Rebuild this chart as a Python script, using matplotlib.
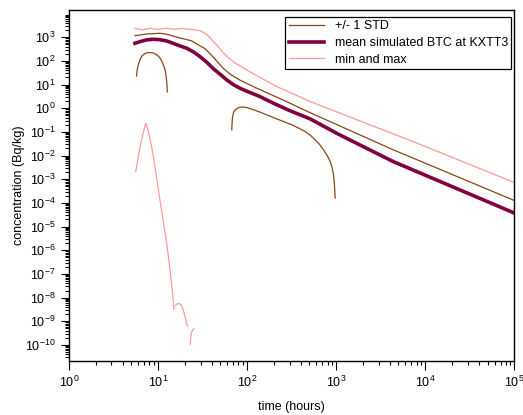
import numpy as np
import matplotlib.pyplot as plt

plt.rcParams['font.family'] = ['Liberation Sans', 'DejaVu Sans']
plt.rcParams['mathtext.default'] = 'regular'

# mean simulated BTC
t_mean = [5.51, 6.5, 7.5, 8.86, 10.5, 12.5, 15.5, 18, 21, 25, 29.6, 35, 41.8, 50, 59.1, 70, 83.4,
          100, 140, 200, 300, 510, 1062, 4370, 1e5]
c_mean = [558, 680, 780, 824, 790, 698, 520, 420, 344, 240, 152, 90, 47, 27, 15.8, 10, 7.0,
          5.2, 3.1, 1.6, 0.8, 0.357, 0.08, 0.0056, 3.75e-5]

# mean + 1 STD
t_up = [5.51, 7.46, 10.5, 13, 15.5, 21, 23.9, 27.2, 33.7, 38.4, 45.6, 54.2, 65, 83.4, 123,
        200, 300, 469, 1062, 4370, 1e5]
c_up = [1169, 1378, 1475, 1300, 1060, 800, 700, 520, 330, 200, 100, 48, 27, 15.4, 7.6,
        3.33, 1.67, 0.75, 0.19, 0.0176, 1.27e-4]

# mean - 1 STD (two pieces)
t_low1 = [5.73, 5.85, 6.04, 6.3, 6.61, 7.1, 7.62, 8.2, 8.79, 9.4, 10.0, 10.6, 11.1, 11.6, 12.0,
          12.3, 12.46, 12.6, 12.7]
c_low1 = [23, 45, 75, 120, 163, 205, 224, 225, 218, 195, 163, 128, 91, 62, 41.7,
          24, 15.8, 9, 4.9]
t_low2 = [67.3, 67.8, 68.4, 70.2, 73.3, 78, 83.4, 90, 99.3, 115, 134, 165, 206, 260, 318, 380,
          448, 515, 581, 650, 720, 800, 857, 900, 933, 955, 975]
c_low2 = [0.123, 0.25, 0.38, 0.65, 0.855, 1.0, 1.11, 1.13, 1.07, 0.9, 0.73, 0.53, 0.38, 0.27,
          0.20, 0.145, 0.104, 0.072, 0.0465, 0.03, 0.0176, 0.0095, 5.6e-3, 3.2e-3, 1.55e-3,
          6e-4, 1.6e-4]

# max
t_max = [5.51, 6.0, 6.6, 7.3, 8.13, 9.0, 10.0, 11.2, 12.5, 14.0, 15.5, 17.3, 19.2, 21.8, 24.7,
         29.6, 33.7, 38, 41.8, 45.6, 52, 59, 66, 74, 83.4, 108, 140, 216, 329, 510, 8070, 1e5]
c_max = [2400, 2250, 2030, 2250, 2400, 2250, 2130, 2300, 2400, 2250, 2180, 2300, 2310, 2220, 2130,
         1900, 1475, 1000, 650, 480, 260, 160, 110, 80, 61.5, 34, 20.1, 8.2, 4.05, 1.92, 0.0337, 7.3e-4]

# min (three pieces)
t_min1 = [5.62, 6.0, 6.28, 6.8, 7.27, 7.6, 7.93, 8.4, 8.86, 9.6, 10.5, 11.5, 12.5, 13.4, 14.3, 15.1]
c_min1 = [2.1e-3, 0.009, 0.0235, 0.09, 0.235, 0.15, 0.0755, 0.028, 9.2e-3, 1.3e-3, 1.36e-4,
          1.5e-5, 2.03e-6, 2.5e-7, 3.0e-8, 3.3e-9]
t_min2 = [15.7, 16.2, 16.8, 17.4, 18.1, 19.1, 20.1, 21.3]
c_min2 = [4.6e-9, 5.3e-9, 5.6e-9, 5.5e-9, 5.1e-9, 3.2e-9, 1.6e-9, 6.2e-10]
t_min3 = [22.9, 23.2, 23.5, 24.0, 24.4, 25.4]
c_min3 = [1.05e-10, 1.8e-10, 2.8e-10, 3.7e-10, 4.3e-10, 4.8e-10]

brown = '#8B4513'
mean_col = '#800040'
pink = '#FF9999'

fig = plt.figure(figsize=(5.23, 4.15), dpi=100)
ax = fig.add_axes([0.1319, 0.1301, 0.8515, 0.8458])

ax.plot(t_up, c_up, color=brown, lw=0.9, label='+/- 1 STD')
ax.plot(t_low1, c_low1, color=brown, lw=0.9)
ax.plot(t_low2, c_low2, color=brown, lw=0.9)
ax.plot(t_mean, c_mean, color=mean_col, lw=2.6, label='mean simulated BTC at KXTT3')
ax.plot(t_max, c_max, color=pink, lw=0.9, label='min and max')
ax.plot(t_min1, c_min1, color=pink, lw=0.9)
ax.plot(t_min2, c_min2, color=pink, lw=0.9)
ax.plot(t_min3, c_min3, color=pink, lw=0.9)

ax.set_xscale('log')
ax.set_yscale('log')
ax.set_xlim(1, 1e5)
ax.set_yticks([10.0**k for k in range(-10, 4)])
ax.yaxis.set_minor_locator(plt.matplotlib.ticker.LogLocator(base=10, subs=np.arange(2, 10), numticks=30))
ax.yaxis.set_minor_formatter(plt.NullFormatter())
ax.set_ylim(2.1e-11, 1.42e4)

ax.tick_params(which='major', direction='out', length=6.5, width=0.8, labelsize=9, colors='black')
ax.tick_params(which='minor', direction='out', length=3.2, width=0.8)
ax.tick_params(axis='y', which='major', length=5.5, pad=4)
for s in ax.spines.values():
    s.set_linewidth(1.0)

ax.set_xlabel('time (hours)', fontsize=9, labelpad=8)
ax.set_ylabel('concentration (Bq/kg)', fontsize=9, labelpad=0.5)

leg = ax.legend(loc='upper right', bbox_to_anchor=(0.993, 0.98), borderaxespad=0,
                fontsize=9, fancybox=False, framealpha=1, edgecolor='black',
                handlelength=2.8, handletextpad=0.9, labelspacing=0.38, borderpad=0.25)
leg.get_frame().set_linewidth(0.9)

plt.savefig('out.png', dpi=100)
